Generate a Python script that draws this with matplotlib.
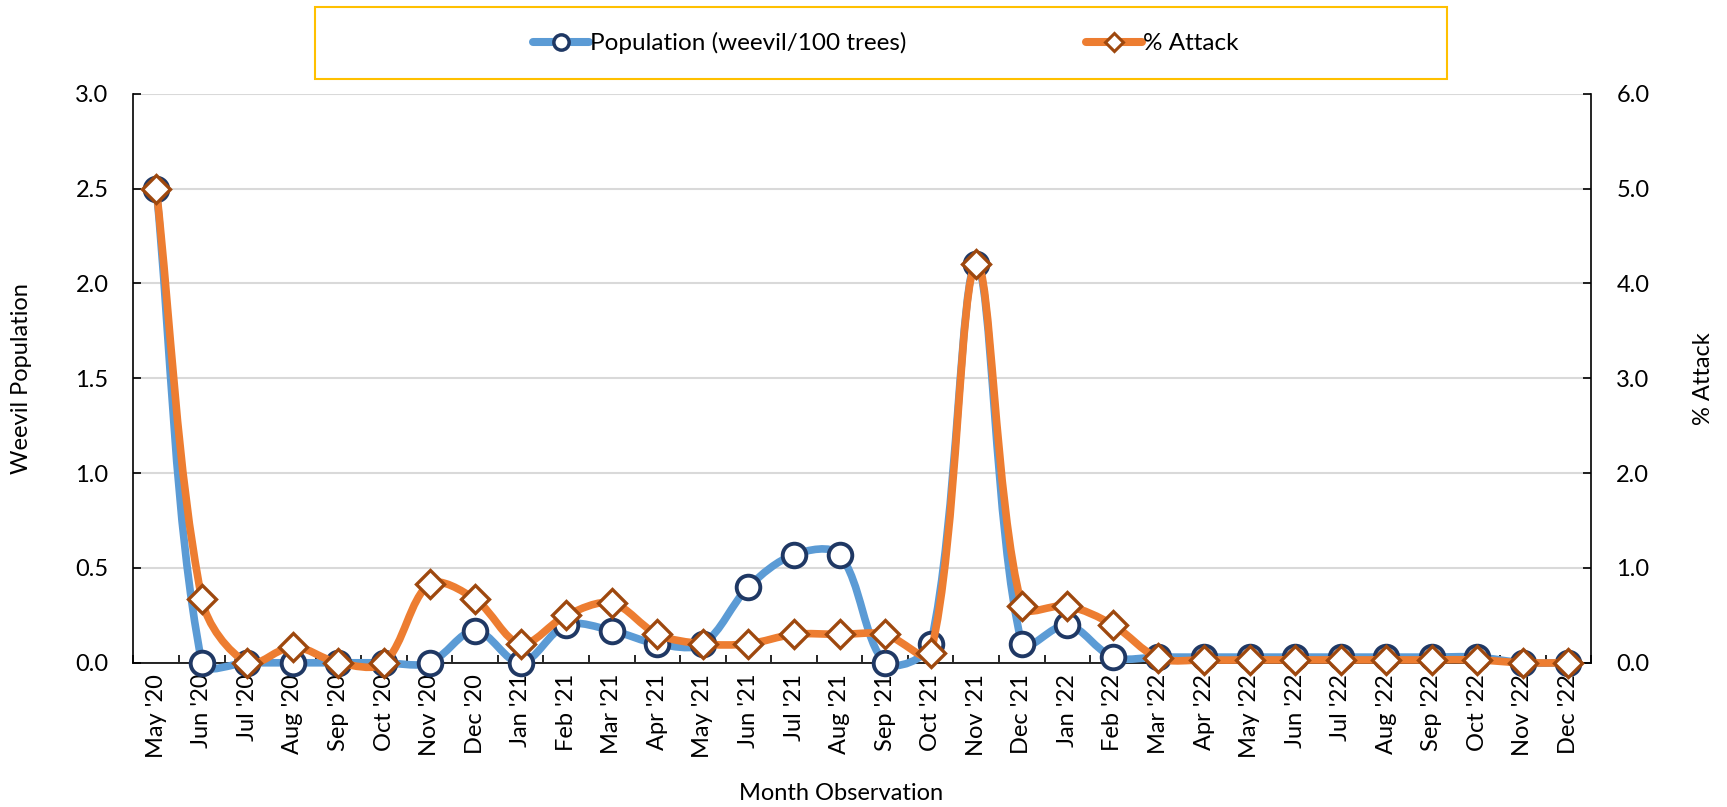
import numpy as np
import matplotlib
matplotlib.use("Agg")
import matplotlib.pyplot as plt
from matplotlib.path import Path
from matplotlib.patches import PathPatch, Rectangle
from matplotlib.lines import Line2D

plt.rcParams['font.family'] = ['Lato', 'DejaVu Sans']

# ---- dane ----
months = ["May '20", "Jun '20", "Jul '20", "Aug '20", "Sep '20", "Oct '20", "Nov '20", "Dec '20",
          "Jan '21", "Feb '21", "Mar '21", "Apr '21", "May '21", "Jun '21", "Jul '21", "Aug '21",
          "Sep '21", "Oct '21", "Nov '21", "Dec '21", "Jan '22", "Feb '22", "Mar '22", "Apr '22",
          "May '22", "Jun '22", "Jul '22", "Aug '22", "Sep '22", "Oct '22", "Nov '22", "Dec '22"]

population = [2.5, 0, 0, 0, 0, 0, 0, 0.17,
              0, 0.2, 0.17, 0.1, 0.1, 0.4, 0.57, 0.57,
              0, 0.1, 2.1, 0.1, 0.2, 0.03, 0.03, 0.03,
              0.03, 0.03, 0.03, 0.03, 0.03, 0.03, 0, 0]

attack = [5.0, 0.67, 0, 0.17, 0, 0, 0.83, 0.67,
          0.2, 0.5, 0.63, 0.3, 0.2, 0.2, 0.3, 0.3,
          0.3, 0.1, 4.2, 0.6, 0.6, 0.4, 0.05, 0.03,
          0.03, 0.03, 0.03, 0.03, 0.03, 0.03, 0, 0]

BLUE = '#5B9BD5'
NAVY = '#1F3864'
ORANGE = '#ED7D31'
BROWN = '#9E480E'
FS = 17


def smooth_path(axe, x, y):
    """Wygladzona linia (Bezier liczony w pikselach, styczna ograniczona dlugoscia odcinka)"""
    data = np.column_stack([x, y]).astype(float)
    pts = axe.transData.transform(data)
    n = len(pts)
    verts = [pts[0]]
    codes = [Path.MOVETO]
    for i in range(n - 1):
        p0 = pts[i - 1] if i > 0 else pts[i]
        p1 = pts[i]
        p2 = pts[i + 1]
        p3 = pts[i + 2] if i + 2 < n else pts[i + 1]
        d01 = np.hypot(*(p1 - p0))
        d12 = np.hypot(*(p2 - p1))
        d23 = np.hypot(*(p3 - p2))
        c1 = p1 + (p2 - p0) * (d12 / (d01 + d12)) / 3 if d01 + d12 > 0 else p1
        c2 = p2 - (p3 - p1) * (d12 / (d12 + d23)) / 3 if d12 + d23 > 0 else p2
        verts += [c1, c2, p2]
        codes += [Path.CURVE4] * 3
    verts = axe.transData.inverted().transform(np.array(verts))
    return Path(verts, codes)


x = np.arange(len(months))

fig = plt.figure(figsize=(17.27, 8.07), dpi=100)
ax = fig.add_axes([0.0773, 0.1787, 0.9214 - 0.0773, 0.8839 - 0.1787])
ax2 = ax.twinx()

# siatka
ax.set_ylim(0, 3)
ax.set_yticks(np.arange(0, 3.01, 0.5))
ax.set_yticklabels([f"{v:.1f}" for v in np.arange(0, 3.01, 0.5)], fontsize=FS)
ax.grid(axis='y', color='#D9D9D9', lw=1.5)
ax.set_axisbelow(True)
ax.set_xlim(-0.5, len(months) - 0.5)

ax2.set_ylim(0, 6)
ax2.set_xlim(-0.5, len(months) - 0.5)
ax2.set_yticks(np.arange(0, 6.01, 1))
ax2.set_yticklabels([f"{v:.1f}" for v in np.arange(0, 6.01, 1)], fontsize=FS)

# populacja
ax.add_patch(PathPatch(smooth_path(ax, x, population), fill=False, edgecolor=BLUE, lw=5.5,
                       capstyle='round', joinstyle='round', clip_on=False, zorder=3))
ax.plot(x, population, linestyle='none', marker='o', ms=17, mfc='white', mec=NAVY, mew=2.8,
        clip_on=False, zorder=4)

# atak
ax2.add_patch(PathPatch(smooth_path(ax2, x, attack), fill=False, edgecolor=ORANGE, lw=5.5,
                        capstyle='round', joinstyle='round', clip_on=False, zorder=3))
ax2.plot(x, attack, linestyle='none', marker='D', ms=14, mfc='white', mec=BROWN, mew=2.4,
         clip_on=False, zorder=4)

# osie
ax.set_xticks(x)
ax.set_xticklabels(months, rotation=90, fontsize=FS)
ax.set_xticks(np.arange(-0.5, len(months)), minor=True)
ax.tick_params(axis='x', which='major', length=0, pad=8)
ax.tick_params(axis='x', which='minor', direction='in', length=6, width=1.2, color='black')
ax.tick_params(axis='y', direction='in', length=6, width=1.2, pad=18)
ax2.tick_params(axis='y', direction='in', length=6, width=1.2, pad=18)

for s in ['top', 'right']:
    ax.spines[s].set_visible(False)
for s in ['top', 'left', 'bottom']:
    ax2.spines[s].set_visible(False)
for sp in [ax.spines['left'], ax.spines['bottom'], ax2.spines['right']]:
    sp.set_color('black')
    sp.set_linewidth(1.2)

fig.text(22 / 1727, 0.5313, "Weevil Population", rotation=90, ha='center', va='center', fontsize=FS)
fig.text(1704 / 1727, 0.5313, "% Attack", rotation=90, ha='center', va='center', fontsize=FS)
fig.text(841 / 1727, 1 - 794 / 807, "Month Observation", ha='center', va='center', fontsize=FS)

# legenda
handles = [
    Line2D([], [], color=BLUE, lw=5.8, marker='o', ms=11, mfc='white', mec=NAVY, mew=2.5,
           solid_capstyle='round'),
    Line2D([], [], color=ORANGE, lw=5.8, marker='D', ms=9, mfc='white', mec=BROWN, mew=2.2,
           solid_capstyle='round'),
]
fig.legend(handles, ["Population (weevil/100 trees)", "% Attack"], loc='center',
           bbox_to_anchor=(0.5128, 0.9467), ncol=2, frameon=False, columnspacing=7.4,
           handlelength=2.3, handletextpad=0.05, fontsize=17.5)
fig.patches.append(Rectangle((0.1824, 0.9016), 0.6555, 0.0902, transform=fig.transFigure,
                             fill=False, edgecolor='#FFC000', lw=1.5))

plt.savefig("out.png", dpi=100)
